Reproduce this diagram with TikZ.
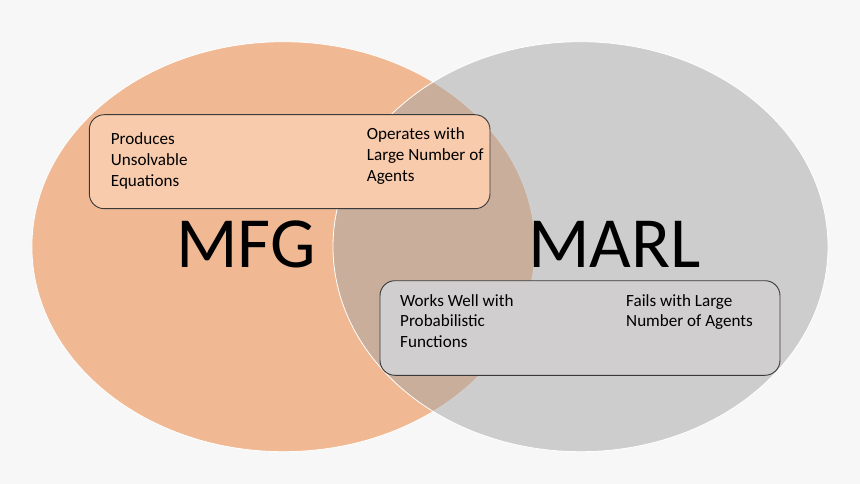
\documentclass[tikz,border=0pt]{standalone}
\usepackage{fontspec}
\setmainfont{Carlito}
\definecolor{bgc}{HTML}{F7F7F7}
\definecolor{orangec}{HTML}{ED7D31}
\definecolor{grayc}{HTML}{A5A5A5}
\definecolor{topfill}{HTML}{F8CBAD}
\definecolor{botfill}{HTML}{D0CECE}
\definecolor{boxline}{HTML}{3A3A3A}
\tikzset{
  setbox/.style={draw=boxline, line width=0.9pt, rounded corners=15pt, inner sep=0pt},
  smalltext/.style={anchor=base west, inner sep=0pt, font=\fontsize{17.1}{20.7}\selectfont},
  bigtext/.style={anchor=base west, inner sep=0pt, font=\fontsize{72}{72}\selectfont},
  ringline/.style={draw=white, line width=0.8pt}
}
\newcommand{\lns}[1]{\begin{tabular}[t]{@{}l@{}}#1\end{tabular}}
\begin{document}
\begin{tikzpicture}[x=1pt,y=-1pt]
\fill[bgc] (0,0) rectangle (860,484);
\useasboundingbox (0,0) rectangle (860,484);
\fill[orangec, fill opacity=0.5] (283.5,246.7) ellipse [x radius=251.6pt, y radius=205pt];
\draw[ringline] (283.5,246.7) ellipse [x radius=251.6pt, y radius=205pt];
\fill[grayc, fill opacity=0.5] (580.5,246.7) ellipse [x radius=247.5pt, y radius=205pt];
\draw[ringline] (580.5,246.7) ellipse [x radius=247.5pt, y radius=205pt];
\node[setbox, fill=topfill, minimum width=400.7pt, minimum height=94pt] (topbox) at (289.65,161.7) {};
\node[setbox, fill=botfill, minimum width=400pt, minimum height=94.6pt] (botbox) at (580,328) {};
\node[smalltext] (t1) at (110.7,145) {\lns{Produces\\Unsolvable\\Equations}};
\node[smalltext] (t2) at (366.7,140) {\lns{Operates with\\Large Number of\\Agents}};
\node[smalltext] (t3) at (400,306) {\lns{Works Well with\\Probabilistic\\Functions}};
\node[smalltext] (t4) at (626,306) {\lns{Fails with Large\\Number of Agents}};
\node[bigtext] (mfg) at (176,267.3) {MFG};
\node[bigtext] (marl) at (528,267.3) {MARL};
\end{tikzpicture}
\end{document}
